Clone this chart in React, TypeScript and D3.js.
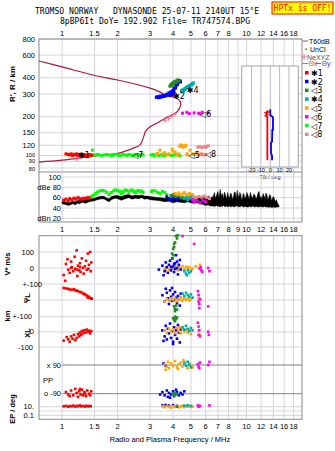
import React from "react";
import * as d3 from "d3";

type P = [number, number];
type N3 = [number, number, number];

const titleLine1 = "TROMSO NORWAY   DYNASONDE 25-07-11 2140UT 15°E";
const titleLine2 = "8pBP6It DoY= 192.902 File= TR747574.BPG";
const hptxText = "HPTx is OFF!";

const freqGrid = [1, 1.5, 2, 3, 4, 5, 6, 7, 8, 9, 10, 12, 14, 16, 18];
const freqLabelsTop = [1, 1.5, 2, 3, 4, 5, 6, 7, 8, 10, 12, 14, 16, 18];
const freqLabelsMid = [1, 1.5, 2, 3, 4, 5, 6, 7, 8, 9, 10, 12, 14, 16, 18];
const freqLabelsBot = [1, 1.5, 2, 3, 4, 5, 6, 7, 8, 10, 12, 14, 16, 18];
const heightTicks = [800, 600, 400, 300, 200, 150, 120, 100, 90, 80];
const dbTicks = [100, 80, 60, 40, 20];
const dbTickLabels = ["100", "dBe 80", "60", "40", "dBn 20"];
const tiltTicks = [-20, -10, 0, 10, 20];

const legendLabels = ["✱1", "✱2", "◁3", "✱4", "◁5", "◁6", "◁7", "◁8"];
const echoColors = ["#ff0000", "#0000ff", "#228b22", "#00aaaa", "#ffa500", "#ff00ff", "#00ff00", "#f08080"];

// model profile (freq MHz, height km)
const profile: P[] = [[0.75,540],[1,486],[1.5,417],[2,385],[3,333],[3.4,310],[3.63,294],[3.95,286],[4.2,277],[4.38,261],[4.4,246],[4.2,218],[3.95,206],[3.7,198],[3.55,191],[3.27,178],[3.0,167],[2.83,153],[2.77,140],[2.65,121],[2.43,114],[2.2,108],[2.0,104],[1.5,99],[1,92],[0.75,89]];
const neXYZ: P[] = [[1.2,94],[3.62,186],[3.78,193],[3.92,201],[4.08,209]];

// echoes on the height panel
const topRed: P[] = [[1.05,103],[1.08,102],[1.1,101],[1.12,103],[1.14,100],[1.16,102],[1.18,101],[1.2,103],[1.22,100],[1.24,102],[1.26,101],[1.28,100],[1.3,102],[1.32,101],[1.34,99],[1.36,101],[1.38,100],[1.4,102],[1.43,100],[1.45,101]];
const topBlue: P[] = [[3.25,283],[3.3,285],[3.35,281],[3.4,288],[3.45,284],[3.5,290],[3.55,287],[3.6,293],[3.65,290],[3.7,298],[3.75,295],[3.8,305],[3.85,300],[3.9,312],[3.95,308],[4.0,320],[4.02,315],[4.05,330],[4.1,340],[4.12,335],[4.15,350],[4.2,360],[4.22,355],[4.25,368],[4.3,375],[4.35,380],[4.38,372],[3.95,296],[3.85,292],[4.05,305]];
const topGreen: P[] = [[3.85,345],[3.9,355],[3.92,348],[3.95,360],[4.0,365],[4.02,352],[4.05,370],[4.1,375],[4.15,368],[4.2,380],[4.25,385],[4.3,378]];
const topTeal: P[] = [[4.45,318],[4.5,322],[4.55,316],[4.6,328],[4.65,325],[4.7,335],[4.8,342],[4.85,338],[4.9,348],[5.0,355],[5.05,352],[5.1,360],[5.15,365]];
const topOrange: P[] = [[3.25,102],[3.3,104],[3.4,110],[3.5,103],[3.6,105],[3.7,101],[3.8,103],[3.95,112],[4.0,108],[4.1,106],[4.2,101],[4.3,103],[4.35,118],[4.4,121],[4.5,116],[4.55,119],[4.65,117],[4.7,120],[4.75,103],[4.8,101],[4.95,110],[5.1,103],[5.25,102],[5.4,104],[5.5,101],[5.6,102]];
const topMagenta: P[] = [[4.5,213],[4.75,216],[4.9,211],[5.2,214],[5.5,213],[5.6,210],[5.75,216],[6.2,214]];
const topLime: P[] = [[1.42,101],[1.46,100],[1.5,101],[1.55,102],[1.6,101],[1.65,100],[1.7,101],[1.75,102],[1.8,101],[1.85,100],[1.9,101],[1.95,102],[2.0,101],[2.05,100],[2.1,101],[2.15,102],[2.2,101],[2.25,100],[2.3,102],[2.35,101],[2.4,100],[2.45,101],[2.5,102],[2.55,101],[2.6,100],[2.65,101],[2.7,102],[2.75,101],[1.46,110],[3.05,101],[3.1,102],[3.15,100],[3.2,101],[3.25,102],[3.3,101],[3.35,100],[3.45,101],[3.55,100],[3.65,101],[3.75,102],[3.85,101],[3.95,100],[4.05,101],[4.15,102],[4.25,101],[4.35,100]];
const topSalmon: P[] = [[5.45,116],[5.6,117],[5.75,115],[5.9,117],[6.05,116],[6.2,119],[5.55,102],[5.7,103],[5.85,101],[6.0,102]];

// amplitude panel
const noise: N3[] = [[1.0,48,52],[1.03,47,53],[1.06,46,51],[1.09,45,50],[1.12,47,52],[1.15,48,53],[1.18,46,52],[1.21,49,54],[1.24,48,55],[1.27,50,55],[1.3,51,56],[1.33,49,55],[1.36,50,56],[1.4,52,57],[1.44,53,58],[1.5,54,59],[1.55,56,61],[1.6,57,62],[1.65,58,63],[1.7,57,62],[1.75,54,59],[1.8,52,58],[1.85,56,62],[1.9,58,63],[1.95,59,64],[2.0,58,64],[2.1,55,62],[2.2,58,65],[2.3,60,66],[2.4,57,63],[2.5,59,65],[2.6,58,64],[2.7,60,65],[2.8,57,63],[2.9,58,63],[3.0,56,62],[3.2,55,61],[3.4,54,60],[3.6,52,59],[3.8,53,60],[4.0,50,58],[4.2,52,60],[4.4,51,58],[4.6,50,57],[4.8,52,59],[5.0,50,57],[5.2,49,56],[5.4,50,58],[5.6,48,60],[5.8,47,62],[6.0,45,58],[6.2,46,63],[6.4,44,60],[6.6,44,62],[6.7,43,70],[6.8,44,58],[6.9,45,66],[7.0,43,72],[7.1,44,60],[7.2,42,76],[7.3,44,63],[7.4,43,68],[7.5,45,58],[7.6,43,71],[7.7,43,64],[7.8,44,57],[7.9,42,70],[8.0,43,62],[8.1,44,60],[8.2,42,69],[8.3,43,66],[8.4,44,56],[8.5,42,62],[8.6,43,71],[8.7,43,70],[8.8,44,58],[8.9,44,74],[9.0,43,64],[9.1,42,61],[9.2,43,70],[9.3,43,67],[9.4,44,57],[9.5,44,58],[9.6,42,68],[9.7,42,66],[9.8,43,59],[9.9,43,60],[10.05,42,70],[10.2,42,64],[10.35,43,57],[10.5,43,70],[10.65,42,62],[10.8,44,59],[10.95,43,67],[11.1,42,65],[11.25,43,58],[11.4,43,61],[11.55,42,69],[11.7,42,72],[11.85,43,60],[12.0,43,62],[12.15,42,57],[12.3,42,68],[12.45,43,63],[12.6,43,58],[12.75,42,69],[12.9,42,66],[13.05,42,56],[13.2,41,60],[13.35,42,66],[13.5,42,64],[13.65,41,55],[13.8,41,57],[13.95,42,62],[14.1,42,60],[14.25,41,55],[14.4,41,53],[14.55,42,56],[14.7,42,50],[14.85,42,47],[15.0,42,45]];
const ampRed: P[] = [[1.02,55],[1.05,57],[1.08,54],[1.1,58],[1.13,56],[1.16,59],[1.19,57],[1.22,60],[1.25,58],[1.28,57],[1.31,59],[1.34,58],[1.37,60],[1.4,59],[1.43,61]];
const ampLime: P[] = [[1.45,62],[1.48,65],[1.52,68],[1.56,71],[1.6,73],[1.65,74],[1.7,73],[1.75,70],[1.8,66],[1.85,70],[1.9,73],[1.95,75],[2.0,74],[2.05,72],[2.1,68],[2.15,72],[2.2,75],[2.25,74],[2.3,70],[2.35,74],[2.4,75],[2.45,72],[2.5,70],[2.55,73],[2.6,74],[2.65,71],[2.7,73],[2.75,70],[3.05,72],[3.1,74],[3.2,73],[3.3,70],[3.4,68],[3.5,72],[3.6,70],[3.7,66],[4.2,62],[4.4,60]];
const ampBlue: P[] = [[3.7,62],[3.8,58],[3.9,56],[4.0,60],[4.1,64],[4.2,57],[4.3,59]];
const ampGreen: P[] = [[3.9,64],[4.0,66],[4.1,62],[4.3,63],[4.5,60]];
const ampOrange: P[] = [[4.1,68],[4.2,66],[4.3,69],[4.4,65],[4.5,67],[4.6,70],[4.7,66],[4.8,64],[4.9,68],[5.0,63],[5.1,66],[5.2,62]];
const ampTeal: P[] = [[4.6,58],[4.7,60],[4.8,56],[4.9,59],[5.0,61],[5.2,57]];
const ampMagenta: P[] = [[5.1,56],[5.2,52],[5.4,54],[5.6,50],[5.8,55],[6.0,52]];
const ampSalmon: P[] = [[5.3,60],[5.5,62],[5.7,61],[5.9,63],[6.1,60],[6.3,58]];

// lower panel: V* (m/s)
const vRed: P[] = [[1.02,-44],[1.04,-80],[1.05,25],[1.07,55],[1.08,-10],[1.1,-30],[1.12,40],[1.13,5],[1.15,-20],[1.17,70],[1.18,-5],[1.2,110],[1.21,-50],[1.22,15],[1.24,-15],[1.25,30],[1.26,-25],[1.28,60],[1.3,0],[1.31,-35],[1.33,10],[1.35,45],[1.36,-10],[1.38,90],[1.39,-5],[1.4,20],[1.42,100],[1.43,-20],[1.44,35],[1.12,0],[1.2,-10],[1.25,5]];
const vBlue: P[] = [[3.35,-10],[3.5,15],[3.6,-20],[3.65,35],[3.7,5],[3.75,-30],[3.8,20],[3.85,45],[3.9,-15],[3.95,60],[4.0,10],[4.05,-25],[4.1,30],[4.15,80],[4.2,0],[4.25,-40],[4.3,20],[4.35,50],[4.4,-10],[3.55,-45],[4.05,25],[3.9,5],[4.2,40],[4.1,-5]];
const vGreen: P[] = [[3.95,90],[4.0,120],[4.02,80],[4.05,150],[4.1,160],[4.15,200],[4.2,185],[4.25,205],[3.98,60],[4.05,130]];
const vOrange: P[] = [[3.6,-5],[3.7,5],[3.8,-10],[3.9,10],[4.0,-5],[4.1,15],[4.2,-8],[4.3,10],[4.4,0],[4.5,12],[4.6,-5],[4.7,8],[4.8,0],[4.9,5],[5.0,-10],[5.1,-5],[5.3,10],[5.5,0],[5.6,20],[3.65,-15],[4.25,-15]];
const vTeal: P[] = [[4.6,-20],[4.7,-35],[4.8,-15],[4.9,-30],[5.0,-20],[4.75,-45]];
const vMagenta: P[] = [[4.5,200],[5.2,150],[5.6,-5],[5.7,-15],[5.65,5],[6.2,0],[6.3,-20],[5.75,-25]];

// YL (km)
const ylRed: P[] = [[1.02,75],[1.05,72],[1.08,70],[1.1,66],[1.13,64],[1.16,68],[1.18,60],[1.2,58],[1.22,55],[1.25,50],[1.27,48],[1.3,40],[1.32,38],[1.35,30],[1.37,25],[1.4,20],[1.42,12],[1.44,10],[1.45,8],[1.38,15],[1.33,35]];
const ylBlue: P[] = [[3.5,30],[3.6,-10],[3.7,45],[3.75,10],[3.8,-25],[3.85,60],[3.9,20],[3.95,-5],[4.0,35],[4.05,0],[4.1,50],[4.15,15],[4.2,-20],[4.25,25],[4.3,5],[4.35,-35],[4.4,40],[3.65,70],[3.95,75]];
const ylOrange: P[] = [[3.7,5],[3.8,-5],[3.9,10],[4.0,0],[4.1,12],[4.2,-8],[4.3,5],[4.4,18],[4.5,-5],[4.6,10],[4.7,0],[4.8,8],[4.9,-3],[5.0,5],[5.5,10],[5.6,0],[3.6,-12],[4.45,2]];
const ylTeal: P[] = [[4.5,40],[4.6,25],[4.7,45],[4.8,30],[4.9,20],[5.0,35],[5.1,15]];
const ylGreen: P[] = [[4.05,-40],[4.1,-55],[4.15,-35],[4.2,-60],[4.1,-70]];
const ylMagenta: P[] = [[5.45,55],[5.5,30],[5.5,-10],[5.55,-25],[5.6,5],[6.2,-40],[5.55,-50]];

// XL (km)
const xlRed: P[] = [[1.02,-58],[1.06,-35],[1.08,-50],[1.1,-65],[1.12,-30],[1.14,-45],[1.16,-20],[1.18,-55],[1.2,-40],[1.22,-15],[1.24,-30],[1.25,-5],[1.27,-20],[1.28,5],[1.3,-10],[1.32,10],[1.34,-5],[1.36,15],[1.38,0],[1.4,8],[1.42,-10],[1.44,5]];
const xlBlue: P[] = [[3.5,10],[3.6,-30],[3.65,40],[3.7,-50],[3.75,20],[3.8,-10],[3.85,55],[3.9,-40],[3.95,5],[4.0,-65],[4.05,30],[4.1,-20],[4.15,10],[4.2,-45],[4.25,45],[4.3,-5],[4.35,-70],[4.4,15],[3.55,-60],[4.0,-80]];
const xlOrange: P[] = [[3.6,10],[3.7,-5],[3.8,20],[3.9,0],[4.0,15],[4.1,-8],[4.2,25],[4.3,5],[4.4,-10],[4.5,18],[4.6,0],[4.7,12],[4.8,-5],[4.9,10],[5.0,-15],[5.5,5],[5.6,-20],[4.35,30]];
const xlTeal: P[] = [[4.5,30],[4.6,15],[4.7,40],[4.8,20],[4.9,5],[5.0,25],[5.1,10]];
const xlGreen: P[] = [[4.0,90],[4.05,80],[4.1,100],[4.15,85],[4.2,95],[4.1,70]];
const xlMagenta: P[] = [[5.45,60],[5.5,35],[5.55,10],[5.5,-20],[5.6,-30],[6.2,0],[6.25,-20]];

// PP (deg)
const ppRed: P[] = [[1.05,-80],[1.08,-95],[1.12,-70],[1.15,-100],[1.18,-60],[1.2,-85],[1.22,-110],[1.24,-75],[1.26,-95],[1.28,-65],[1.3,-100],[1.32,-80],[1.35,-105],[1.37,-70],[1.4,-90],[1.42,-100],[1.44,-75],[1.1,-105],[1.25,-60],[1.33,-90]];
const ppOrange: P[] = [[3.6,95],[3.7,80],[3.75,110],[3.8,70],[3.9,100],[4.0,85],[4.1,115],[4.2,75],[4.3,95],[4.4,105],[4.5,80],[4.6,110],[4.7,90],[4.8,70],[4.9,100],[5.0,85],[5.1,75],[3.65,60],[4.25,65],[4.55,120]];
const ppTeal: P[] = [[4.6,100],[4.7,85],[4.8,110],[4.9,90],[5.0,75]];
const ppMagenta: P[] = [[5.45,95],[5.5,80],[5.6,105],[6.2,90],[6.3,110],[5.55,70]];
const ppBlue: P[] = [[3.55,100],[3.65,85],[3.4,-95],[3.5,-80],[3.6,-100],[3.7,-70],[3.75,-110],[3.8,-85],[3.9,-95],[4.0,-75],[4.05,-105],[4.1,-90],[4.2,-80],[4.3,-100],[4.4,-85],[4.5,-95],[4.6,-75],[3.85,-115],[4.15,-65]];
const ppGreen: P[] = [[4.0,-90],[4.05,-100],[4.1,-85],[4.15,-95],[4.2,-92]];

// EP (deg)
const epRed: P[] = [[1.02,12],[1.05,15],[1.08,10],[1.1,14],[1.13,12],[1.15,18],[1.18,11],[1.2,15],[1.22,13],[1.25,20],[1.27,12],[1.3,14],[1.33,11],[1.35,16],[1.38,12],[1.4,15],[1.43,13]];
const epOrange: P[] = [[3.5,12],[3.6,8],[3.7,15],[3.8,10],[3.9,6],[4.0,12],[4.1,9],[4.2,14],[4.3,7],[4.4,11],[4.5,16],[4.6,8],[4.7,12],[4.8,10],[4.9,14],[5.0,9],[5.1,11]];
const epBlue: P[] = [[3.5,20],[3.65,25],[3.8,18],[4.0,22],[4.2,15]];
const epTeal: P[] = [[4.6,18],[4.8,22],[5.0,15]];
const epMagenta: P[] = [[5.45,20],[5.5,10],[5.6,15],[6.3,20]];
const epGreen: P[] = [[4.2,10]];

// tilt inset (deg, km)
const thetaX: P[] = [[-3.1,92],[-3.1,200],[-5,203],[-3,208],[-5,214],[-2,218],[-4,222]];
const thetaY: P[] = [[1.9,92],[1.9,100],[0.8,104],[0.8,125],[1.9,128],[2.2,158],[2.9,158],[2.9,198],[0,206],[0,228]];

const x = d3.scaleLog().domain([0.75, 20]).range([39, 302]);
const yH = d3.scaleLog().domain([800, 74.5]).range([39, 172]);
const yDb = d3.scaleLinear().domain([100, 20]).range([177, 218.3]);
const yV = d3.scaleLinear().domain([100, 0]).range([252, 268]);
const yYL = d3.scaleLinear().domain([100, 0]).range([284, 300]);
const yXL = d3.scaleLinear().domain([100, -100]).range([316.7, 347]);
const yPP = d3.scaleLinear().domain([90, -90]).range([365, 393.7]);
const yEP = d3.scaleLog().domain([10, 0.1]).range([406.7, 415.3]);
const xTilt = d3.scaleLinear().domain([-20, 20]).range([251.5, 289]);

const SANS = "Liberation Sans, Arial, sans-serif";
const MONO = "DejaVu Sans Mono, monospace";
const GRID = "#d4d4e0";
const FRAME = "#8a8a8a";

function Sq({ pts, color, sy, s = 2.6 }: { pts: P[]; color: string; sy: (v: number) => number; s?: number }) {
  return (
    <g fill={color}>
      {pts.map((p, i) => (
        <rect key={i} x={x(p[0]) - s / 2} y={sy(p[1]) - s / 2} width={s} height={s} />
      ))}
    </g>
  );
}

export default function App() {
  const profPath = d3.line<P>().x(d => x(d[0])).y(d => yH(d[1])).curve(d3.curveCatmullRom)(profile) || "";
  const noisePath = d3.area<N3>().x(d => x(d[0])).y0(d => yDb(d[1])).y1(d => yDb(d[2]))(noise) || "";
  const tiltLine = d3.line<P>().x(d => xTilt(d[0])).y(d => yH(d[1]));
  const c = echoColors;

  // small nudges keep the three crowded low-height labels apart
  const hLabelShift: Record<number, number> = { 100: -0.6, 90: 0, 80: 0.8 };
  const hLabelSize = (h: number) => (h <= 100 ? 5.6 : 7.5);

  const lowerRows: { label: string; y: number; endX: number }[] = [
    { label: "100", y: yV(100), endX: 34 },
    { label: "0", y: yV(0), endX: 34 },
    { label: "+-100", y: yYL(100), endX: 42 },
    { label: "0", y: yYL(0), endX: 28 },
    { label: "+-100", y: yXL(100), endX: 32 },
    { label: "0", y: yXL(0), endX: 34 },
    { label: "-100", y: yXL(-100), endX: 33 },
    { label: "10.", y: yEP(10), endX: 34 },
    { label: "0.1", y: yEP(0.1), endX: 34 },
  ];
  const lowerGrid = [yV(100), yV(0), yYL(100), yYL(0), yXL(100), yXL(0), yXL(-100), yEP(10), yEP(1), yEP(0.1)];

  return (
    <svg width={335} height={451} style={{ display: "block", position: "absolute", left: 0, top: 0, background: "#fff" }}>
      <rect x={0} y={0} width={335} height={451} fill="#fff" />
      {/* titles */}
      <text x={35} y={13.5} fontFamily={MONO} fontSize={8.1} style={{ whiteSpace: "pre" }}>{titleLine1}</text>
      <text x={60} y={23.5} fontFamily={MONO} fontSize={8.1} style={{ whiteSpace: "pre" }}>{titleLine2}</text>
      <rect x={272} y={2} width={61} height={12} fill="#ffff00" stroke="#ff0000" strokeWidth={1} />
      <text x={302.5} y={11} textAnchor="middle" fontFamily={MONO} fontSize={8} fill="#ff0000">{hptxText}</text>

      {/* ===== top panel ===== */}
      {freqGrid.map(f => <line key={"gt" + f} x1={x(f)} x2={x(f)} y1={39} y2={172} stroke={GRID} />)}
      {heightTicks.map(h => <line key={"gh" + h} x1={39} x2={302} y1={yH(h)} y2={yH(h)} stroke={GRID} />)}
      <rect x={39} y={39} width={263} height={133} fill="none" stroke={FRAME} />
      {freqLabelsTop.map(f => (
        <text key={"lt" + f} x={x(f)} y={36} textAnchor="middle" fontFamily={SANS} fontSize={7.5}>{String(f)}</text>
      ))}
      {heightTicks.map(h => (
        <text key={"lh" + h} x={35} y={yH(h) + (h <= 100 ? 2 : 2.6) + (hLabelShift[h] || 0)} textAnchor="end" fontFamily={SANS} fontSize={hLabelSize(h)}>{String(h)}</text>
      ))}
      <text transform="translate(15,84) rotate(-90)" textAnchor="middle" fontFamily={SANS} fontSize={8} fontWeight="bold">R', R / km</text>

      <path d={profPath} fill="none" stroke="#b4143c" strokeWidth={1.2} />
      <g stroke="#f07090" strokeWidth={1}>
        {neXYZ.map((p, i) => (
          <g key={i}>
            <line x1={x(p[0]) - 2} x2={x(p[0]) + 2} y1={yH(p[1])} y2={yH(p[1])} />
            <line x1={x(p[0])} x2={x(p[0])} y1={yH(p[1]) - 2} y2={yH(p[1]) + 2} />
          </g>
        ))}
      </g>
      <Sq pts={topLime} color={c[6]} sy={yH} s={3} />
      <Sq pts={topRed} color={c[0]} sy={yH} s={3} />
      <Sq pts={topOrange} color={c[4]} sy={yH} s={3} />
      <Sq pts={topSalmon} color={c[7]} sy={yH} s={3} />
      <Sq pts={topMagenta} color={c[5]} sy={yH} s={3} />
      <Sq pts={topBlue} color={c[1]} sy={yH} s={3.2} />
      <Sq pts={topGreen} color={c[2]} sy={yH} s={3.2} />
      <Sq pts={topTeal} color={c[3]} sy={yH} s={3.2} />
      <g fontFamily="DejaVu Sans, sans-serif" fontSize={8} fill="#000">
        <text x={x(1.22)} y={yH(95)}>{legendLabels[0]}</text>
        <text x={x(4.0)} y={yH(276)}>{legendLabels[1]}</text>
        <text x={x(4.75)} y={yH(305)}>{legendLabels[3]}</text>
        <text x={x(4.85)} y={yH(96)}>{legendLabels[4]}</text>
        <text x={x(5.6)} y={yH(198)}>{legendLabels[5]}</text>
        <text x={x(2.4)} y={yH(96)}>{legendLabels[6]}</text>
        <text x={x(5.95)} y={yH(97)}>{legendLabels[7]}</text>
      </g>

      {/* tilt inset */}
      <rect x={241.7} y={66} width={56.6} height={101} fill="#fff" stroke="#a0a0a8" />
      {tiltTicks.map(t => <line key={"ti" + t} x1={xTilt(t)} x2={xTilt(t)} y1={66} y2={167} stroke="#b8b8c8" />)}
      <path d={tiltLine(thetaX) || ""} fill="none" stroke="#ff0000" strokeWidth={1.8} />
      <path d={tiltLine(thetaY) || ""} fill="none" stroke="#0000ff" strokeWidth={1.8} />
      {tiltTicks.map(t => (
        <text key={"tl" + t} x={xTilt(t)} y={172} textAnchor="middle" fontFamily={SANS} fontSize={5.5}>{String(t)}</text>
      ))}
      <text x={270} y={178.5} textAnchor="middle" fontFamily={SANS} fontSize={5.5}>Tilt / deg</text>

      {/* legend */}
      <g fontFamily={SANS} fontSize={7}>
        <line x1={302} x2={308} y1={41} y2={41} stroke="#999" strokeWidth={1.5} />
        <text x={309} y={43.5}>T60dB</text>
        <rect x={305.5} y={48.5} width={1.2} height={1.2} fill="#000" />
        <text x={310} y={51.5}>UnCl</text>
        <line x1={301} x2={307} y1={57} y2={57} stroke="#f07090" />
        <line x1={304} x2={304} y1={54} y2={60} stroke="#f07090" />
        <text x={307} y={59.5} fill="#555">NeXYZ</text>
        <line x1={302} x2={308} y1={63.5} y2={63.5} stroke="#ff6060" />
        <text x={308.5} y={66} fill="#c04060">Θx</text>
        <line x1={316} x2={321} y1={63.5} y2={63.5} stroke="#6060ff" />
        <text x={321.5} y={66} fill="#4040b0">Θy</text>
      </g>
      <g fontFamily="DejaVu Sans, sans-serif" fontSize={8}>
        {legendLabels.map((l, i) => (
          <g key={l}>
            <rect x={305} y={71 + i * 8.8} width={3.5} height={3.5} fill={c[i]} />
            <text x={311} y={75.8 + i * 8.8}>{l}</text>
          </g>
        ))}
      </g>

      {/* ===== amplitude panel ===== */}
      {freqGrid.map(f => <line key={"ga" + f} x1={x(f)} x2={x(f)} y1={172} y2={222} stroke={GRID} />)}
      {dbTicks.map(d => <line key={"gd" + d} x1={62} x2={302} y1={yDb(d)} y2={yDb(d)} stroke={GRID} />)}
      <line x1={39} x2={302} y1={222} y2={222} stroke={FRAME} />
      <line x1={302} x2={302} y1={172} y2={222} stroke={FRAME} />
      <line x1={39} x2={39} y1={172} y2={222} stroke={FRAME} />
      {dbTicks.map((d, i) => (
        <text key={"ld" + d} x={61} y={yDb(d) + 2.6} textAnchor="end" fontFamily={SANS} fontSize={7.5}>{dbTickLabels[i]}</text>
      ))}
      <path d={noisePath} fill="#000" stroke="#000" strokeWidth={0.5} />
      <Sq pts={ampRed} color={c[0]} sy={yDb} s={3} />
      <Sq pts={ampLime} color={c[6]} sy={yDb} s={3} />
      <Sq pts={ampBlue} color={c[1]} sy={yDb} s={3} />
      <Sq pts={ampGreen} color={c[2]} sy={yDb} s={3} />
      <Sq pts={ampOrange} color={c[4]} sy={yDb} s={3} />
      <Sq pts={ampTeal} color={c[3]} sy={yDb} s={3} />
      <Sq pts={ampMagenta} color={c[5]} sy={yDb} s={3} />
      <Sq pts={ampSalmon} color={c[7]} sy={yDb} s={3} />
      {freqLabelsMid.map(f => (
        <text key={"lm" + f} x={x(f)} y={232.3} textAnchor="middle" fontFamily={SANS} fontSize={7.5}>{String(f)}</text>
      ))}

      {/* ===== lower panel ===== */}
      {freqGrid.map(f => <line key={"gl" + f} x1={x(f)} x2={x(f)} y1={235.7} y2={419.3} stroke={GRID} />)}
      {lowerGrid.map((yy, i) => <line key={"gy" + i} x1={39} x2={302} y1={yy} y2={yy} stroke={GRID} />)}
      <line x1={62} x2={302} y1={yPP(90)} y2={yPP(90)} stroke="#808080" />
      <line x1={62} x2={302} y1={yPP(-90)} y2={yPP(-90)} stroke="#808080" />
      <rect x={39} y={235.7} width={263} height={183.6} fill="none" stroke={FRAME} />
      <g fontFamily={SANS} fontSize={7.5}>
        {lowerRows.map((r, i) => (
          <text key={"lr" + i} x={r.endX} y={r.y + 2.6} textAnchor="end">{r.label}</text>
        ))}
        <text x={61} y={yPP(90) + 2.6} textAnchor="end">x  90</text>
        <text x={61} y={yPP(-90) + 2.6} textAnchor="end">o -90</text>
        <text x={43} y={382.6}>PP</text>
      </g>
      <g fontFamily={SANS} fontSize={7.5} fontWeight="bold">
        <text transform="translate(9.5,264) rotate(-90)" textAnchor="middle">V* m/s</text>
        <text transform="translate(30,298) rotate(-90)" textAnchor="middle">YL</text>
        <text transform="translate(9.5,316) rotate(-90)" textAnchor="middle">km</text>
        <text transform="translate(30,333) rotate(-90)" textAnchor="middle">XL</text>
        <text transform="translate(14.5,409) rotate(-90)" textAnchor="middle">EP / deg</text>
      </g>

      <Sq pts={vRed} color={c[0]} sy={yV} />
      <Sq pts={vOrange} color={c[4]} sy={yV} />
      <Sq pts={vBlue} color={c[1]} sy={yV} />
      <Sq pts={vGreen} color={c[2]} sy={yV} />
      <Sq pts={vTeal} color={c[3]} sy={yV} />
      <Sq pts={vMagenta} color={c[5]} sy={yV} />

      <Sq pts={ylRed} color={c[0]} sy={yYL} />
      <Sq pts={ylBlue} color={c[1]} sy={yYL} />
      <Sq pts={ylOrange} color={c[4]} sy={yYL} />
      <Sq pts={ylTeal} color={c[3]} sy={yYL} />
      <Sq pts={ylGreen} color={c[2]} sy={yYL} />
      <Sq pts={ylMagenta} color={c[5]} sy={yYL} />

      <Sq pts={xlRed} color={c[0]} sy={yXL} />
      <Sq pts={xlBlue} color={c[1]} sy={yXL} />
      <Sq pts={xlOrange} color={c[4]} sy={yXL} />
      <Sq pts={xlTeal} color={c[3]} sy={yXL} />
      <Sq pts={xlGreen} color={c[2]} sy={yXL} />
      <Sq pts={xlMagenta} color={c[5]} sy={yXL} />

      <Sq pts={ppRed} color={c[0]} sy={yPP} />
      <Sq pts={ppBlue} color={c[1]} sy={yPP} />
      <Sq pts={ppOrange} color={c[4]} sy={yPP} />
      <Sq pts={ppTeal} color={c[3]} sy={yPP} />
      <Sq pts={ppGreen} color={c[2]} sy={yPP} />
      <Sq pts={ppMagenta} color={c[5]} sy={yPP} />

      <Sq pts={epRed} color={c[0]} sy={yEP} />
      <Sq pts={epBlue} color={c[1]} sy={yEP} />
      <Sq pts={epOrange} color={c[4]} sy={yEP} />
      <Sq pts={epTeal} color={c[3]} sy={yEP} />
      <Sq pts={epGreen} color={c[2]} sy={yEP} />
      <Sq pts={epMagenta} color={c[5]} sy={yEP} />

      {freqLabelsBot.map(f => (
        <text key={"lb" + f} x={x(f)} y={429} textAnchor="middle" fontFamily={SANS} fontSize={7.5}>{String(f)}</text>
      ))}
      <text x={170} y={441.5} textAnchor="middle" fontFamily={SANS} fontSize={7.5}>Radio and Plasma Frequency / MHz</text>
    </svg>
  );
}
